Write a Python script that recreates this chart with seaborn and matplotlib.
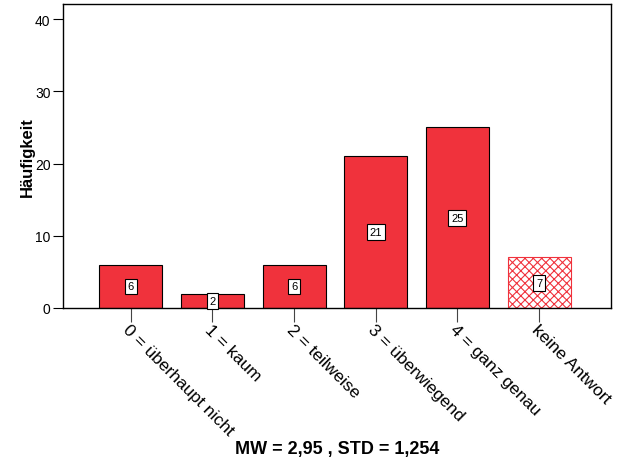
import matplotlib
matplotlib.use("Agg")
import matplotlib.pyplot as plt
import seaborn as sns
import pandas as pd

# Daten
kategorien = ["0 = überhaupt nicht", "1 = kaum", "2 = teilweise",
              "3 = überwiegend", "4 = ganz genau", "keine Antwort"]
haeufigkeit = [6, 2, 6, 21, 25, 7]

tabelle = pd.DataFrame({"Kategorie": kategorien, "Häufigkeit": haeufigkeit})

sns.set_style("white")
plt.rcParams["font.family"] = ["Liberation Sans", "DejaVu Sans"]
plt.rcParams["hatch.linewidth"] = 0.8
plt.rcParams["text.color"] = "black"
plt.rcParams["axes.labelcolor"] = "black"
plt.rcParams["xtick.color"] = "black"
plt.rcParams["ytick.color"] = "black"

fig = plt.figure(figsize=(6.24, 4.64), dpi=100)
ax = fig.add_axes([63 / 624, 1 - 309 / 464, 548 / 624, 304 / 464])

rot = "#F0323C"
sns.barplot(data=tabelle, x="Kategorie", y="Häufigkeit", color=rot,
            width=0.77, edgecolor="black", linewidth=0.8, saturation=1, ax=ax)

# letzter Balken: keine Antwort, schraffiert
letzter = ax.patches[-1]
letzter.set_facecolor("white")
letzter.set_edgecolor(rot)
letzter.set_hatch("xxxx")

# Werte in weißen Kästchen
for i, wert in enumerate(haeufigkeit):
    ax.text(i, wert / 2, str(wert), ha="center", va="center", fontsize=8,
            bbox=dict(boxstyle="square,pad=0.25", fc="white", ec="black", lw=0.8))

ax.set_ylim(0, 42.1)
ax.set_xlim(-0.83, 5.88)
ax.set_yticks([0, 10, 20, 30, 40])
ax.tick_params(axis="y", length=7, width=0.8, labelsize=10, pad=2, left=True)
ax.tick_params(axis="x", length=10, width=0.8, color="#444444", bottom=True, pad=0)
ax.set_xticks(range(len(kategorien)))
ax.set_xticklabels(kategorien, rotation=-45, ha="left", va="top",
                   rotation_mode="anchor", fontsize=12.5)

for s in ax.spines.values():
    s.set_color("black")
    s.set_linewidth(1)

ax.set_ylabel("Häufigkeit", fontsize=12, fontweight="bold", labelpad=0)
ax.set_xlabel("")
fig.text(337 / 624, 1 - 450 / 464, "MW = 2,95 , STD = 1,254", fontsize=13,
         fontweight="bold", ha="center", va="center")

plt.savefig("out.png", dpi=100)
